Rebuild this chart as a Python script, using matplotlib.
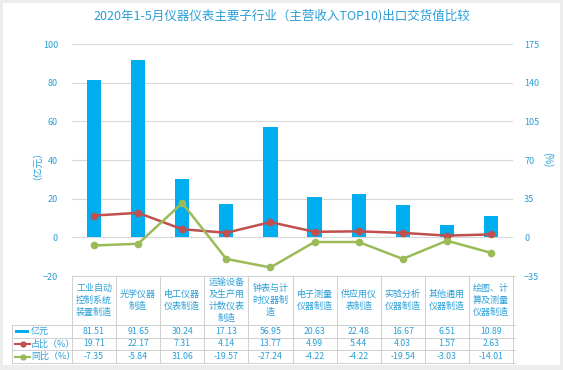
import matplotlib
matplotlib.use("Agg")
import matplotlib.pyplot as plt
from matplotlib.lines import Line2D
from matplotlib.patches import Rectangle
import numpy as np

plt.rcParams['font.family'] = ['Noto Sans CJK SC', 'DejaVu Sans']

categories = ["工业自动\n控制系统\n装置制造", "光学仪器\n制造", "电工仪器\n仪表制造",
              "运输设备\n及生产用\n计数仪表\n制造", "钟表与计\n时仪器制\n造", "电子测量\n仪器制造",
              "供应用仪\n表制造", "实验分析\n仪器制造", "其他通用\n仪器制造", "绘图、计\n算及测量\n仪器制造"]
value = [81.51, 91.65, 30.24, 17.13, 56.95, 20.63, 22.48, 16.67, 6.51, 10.89]
share = [19.71, 22.17, 7.31, 4.14, 13.77, 4.99, 5.44, 4.03, 1.57, 2.63]
yoy = [-7.35, -5.84, 31.06, -19.57, -27.24, -4.22, -4.22, -19.54, -3.03, -14.01]

BLUE = "#00AEEF"
RED = "#C0504D"
GREEN = "#9BBB59"
TXT = "#2A9FD8"
GRID = "#D9D9D9"

W, H = 563, 370
fig = plt.figure(figsize=(W / 100, H / 100), dpi=100)
fig.patch.set_facecolor("#EDEDED")
fig.add_artist(Rectangle((3 / W, 1 - 365 / H), 557 / W, 362 / H, transform=fig.transFigure,
                         facecolor="white", edgecolor="none", zorder=0))

def fx(x):
    return x / W

def fy(y):
    return 1 - y / H

L, R, T, B = 72, 513, 44, 276
ax = fig.add_axes([fx(L), fy(B), fx(R) - fx(L), fy(T) - fy(B)])
ax.set_facecolor("none")
x = np.arange(len(categories))
ax.bar(x, value, width=0.32, color=BLUE, zorder=2)
ax.set_xlim(-0.5, len(categories) - 0.5)
ax.set_ylim(-20, 100)
ax.set_yticks(range(-20, 101, 20))
ax.yaxis.grid(True, color=GRID, linewidth=0.8)
ax.set_axisbelow(True)
ax.set_xticks([])
for s in ax.spines.values():
    s.set_visible(False)
ax.tick_params(axis="y", length=0, labelsize=6.5, labelcolor=TXT, pad=10)
ax.set_ylabel("（亿元）", color=TXT, fontsize=7, labelpad=4)

ax2 = ax.twinx()
ax2.plot(x, share, color=RED, linewidth=1.8, marker="o", markersize=4.5, zorder=3)
ax2.plot(x, yoy, color=GREEN, linewidth=1.8, marker="o", markersize=4.5, zorder=3)
ax2.set_ylim(-35, 175)
ax2.set_yticks(range(-35, 176, 35))
for s in ax2.spines.values():
    s.set_visible(False)
ax2.tick_params(axis="y", length=0, labelsize=6.5, labelcolor=TXT, pad=8)
fig.text(fx(548), fy(160), "(%)", rotation=270, ha="center", va="center", fontsize=7, color=TXT)

fig.text(0.5, fy(16), "2020年1-5月仪器仪表主要子行业（主营收入TOP10)出口交货值比较",
         ha="center", va="center", fontsize=9, color=TXT, fontweight="medium")

# data table under the chart
colw = (R - L) / len(categories)
rows = [276, 325, 338, 350, 363]
lc = "#D0D0D0"
fig.add_artist(Line2D([fx(L), fx(515)], [fy(276)] * 2, color=lc, lw=0.7, transform=fig.transFigure))
for yy in rows[1:]:
    fig.add_artist(Line2D([fx(12), fx(515)], [fy(yy)] * 2, color=lc, lw=0.7, transform=fig.transFigure))
fig.add_artist(Line2D([fx(12), fx(12)], [fy(325), fy(363)], color=lc, lw=0.7, transform=fig.transFigure))
for i in range(len(categories) + 1):
    xx = L + colw * i
    fig.add_artist(Line2D([fx(xx), fx(xx)], [fy(276), fy(363)], color=lc, lw=0.7, transform=fig.transFigure))

for i, cat in enumerate(categories):
    cx = L + colw * (i + 0.5)
    fig.text(fx(cx), fy(300.5), cat, ha="center", va="center", fontsize=6.5, color=TXT, linespacing=1.35)
    for vals, yc in [(value, 331.5), (share, 344), (yoy, 356.5)]:
        fig.text(fx(cx), fy(yc), f"{vals[i]:.2f}", ha="center", va="center", fontsize=6.3, color=TXT)

fig.add_artist(Rectangle((fx(15), fy(333)), 14 / W, 3 / H, transform=fig.transFigure,
                         facecolor=BLUE, edgecolor="none"))
fig.text(fx(31), fy(331.5), "亿元", ha="left", va="center", fontsize=6.5, color=TXT)
for col, yc, lab in [(RED, 344, "占比（%）"), (GREEN, 356.5, "同比（%）")]:
    fig.add_artist(Line2D([fx(15), fx(30)], [fy(yc)] * 2, color=col, lw=1.5, transform=fig.transFigure))
    fig.add_artist(Line2D([fx(22.5)], [fy(yc)], color=col, marker="o", markersize=3.5, transform=fig.transFigure))
    fig.text(fx(31), fy(yc), lab, ha="left", va="center", fontsize=6.5, color=TXT)

fig.savefig("out.png", dpi=100)
